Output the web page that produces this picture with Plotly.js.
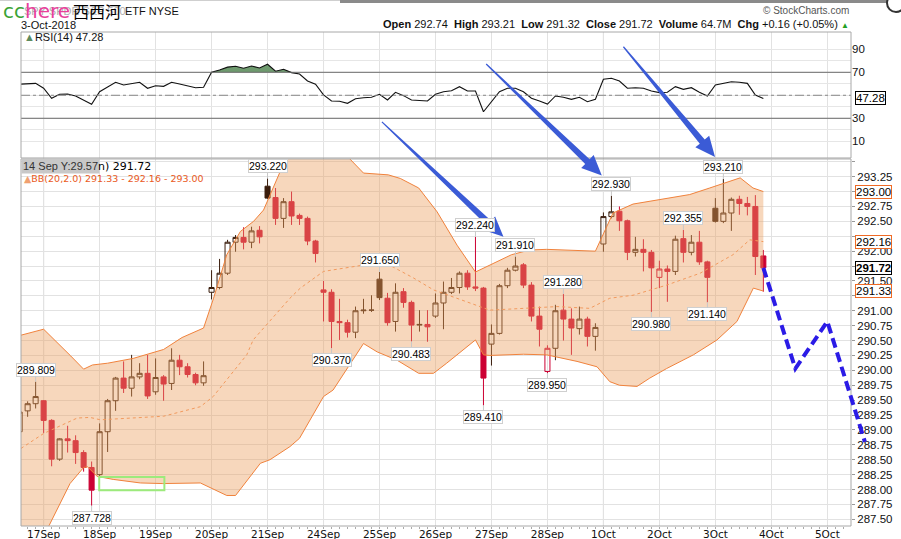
<!DOCTYPE html>
<html><head><meta charset="utf-8">
<script src="https://cdn.plot.ly/plotly-3.0.1.min.js"></script>
<style>html,body{margin:0;padding:0;background:#fff;}#chart{width:901px;height:539px;}</style>
</head><body><div id="chart"></div>
<script>
// ---------- DATA (hourly bars, index 0 = first bar of 17 Sep) ----------
const dayLabels = ['17Sep','18Sep','19Sep','20Sep','21Sep','24Sep','25Sep','26Sep','27Sep','28Sep','1Oct','2Oct','3Oct','4Oct','5Oct'];
const dayStartBars = [0,7,14,21,28,35,42,49,56,63,70,77,84,91,98];
const weekStartBars = [0,35,70];
const priceTicks = [287.5,287.75,288,288.25,288.5,288.75,289,289.25,289.5,289.75,290,290.25,290.5,290.75,291,291.25,291.5,291.75,292,292.25,292.5,292.75,293,293.25,293.5];
const priceTickText = ['287.50','287.75','288.00','288.25','288.50','288.75','289.00','289.25','289.50','289.75','290.00','290.25','290.50','290.75','291.00','','291.50','','292.00','','292.50','292.75','','293.25',''];
const rsiTicks = [10,20,30,40,50,60,70,80,90];
const rsiTickText = ['10','','30','','','','70','','90'];
const barIdx = [-3,-2,-1,0,1,2,3,4,5,6,7,8,9,10,11,12,13,14,15,16,17,18,19,20,21,22,23,24,25,26,27,28,29,30,31,32,33,34,35,36,37,38,39,40,41,42,43,44,45,46,47,48,49,50,51,52,53,54,55,56,57,58,59,60,61,62,63,64,65,66,67,68,69,70,71,72,73,74,75,76,77,78,79,80,81,82,83,84,85,86,87,88,89,90];
const opens  = [288.97,289.32,289.44,289.49,289.16,288.51,288.85,288.82,288.62,288.37,288.25,288.97,289.49,289.87,289.70,289.89,289.95,289.64,289.89,289.78,290.17,290.06,289.93,289.79,291.31,291.39,291.63,292.15,292.23,292.15,292.35,293.09,292.90,292.55,292.83,292.60,292.55,292.17,291.35,291.31,290.82,290.80,290.64,291.00,291.01,291.53,291.21,290.82,291.32,291.14,290.76,290.77,290.91,291.13,291.31,291.39,291.63,291.40,291.38,290.44,290.62,291.42,291.68,291.77,291.43,290.91,289.98,290.37,291.01,290.86,290.70,290.86,290.57,292.12,292.58,292.67,292.51,291.98,292.03,291.98,291.56,291.70,291.66,292.21,291.98,292.15,291.82,292.72,292.50,292.64,292.87,292.80,292.75,291.92];
const highs  = [289.31,289.48,289.809,289.50,289.18,288.86,289.07,288.91,288.66,288.47,289.11,289.52,289.89,290.15,290.26,290.12,290.26,290.20,289.92,290.37,290.26,290.12,289.96,290.15,291.68,291.87,292.19,292.27,292.40,292.41,292.42,293.220,293.06,292.89,293.00,292.63,292.58,292.19,291.50,291.36,291.20,290.85,291.07,291.20,291.26,291.650,291.30,291.46,291.38,291.17,291.01,291.01,291.29,291.49,291.55,291.66,291.68,292.240,291.40,290.77,291.45,291.72,291.910,291.80,291.48,291.07,290.42,291.10,291.280,291.04,291.07,290.90,290.79,292.65,292.930,292.75,292.53,292.24,292.20,292.02,291.84,291.76,292.26,292.355,292.27,292.34,291.84,292.89,293.210,292.90,292.93,292.91,292.94,292.02];
const lows   = [288.95,289.22,289.36,288.95,288.39,288.48,288.62,288.43,288.30,287.728,288.21,288.63,289.32,289.62,289.56,289.85,289.52,289.59,289.49,289.67,289.92,289.88,289.75,289.74,291.19,291.36,291.60,291.99,292.03,292.05,292.13,292.88,292.44,292.39,292.44,292.44,292.10,291.81,290.82,290.370,290.51,290.55,290.54,290.95,290.98,291.18,290.75,290.65,291.05,290.483,290.65,290.48,290.88,290.69,291.28,291.29,291.35,291.33,289.410,290.08,290.60,291.38,291.66,291.38,290.82,290.40,289.950,290.17,290.50,290.26,290.60,290.40,290.33,291.99,292.55,292.34,291.85,291.91,291.66,290.980,291.38,291.15,291.60,291.81,291.93,291.77,291.140,292.48,292.47,292.34,292.61,292.60,291.60,291.32];
const closes = [289.30,289.44,289.56,289.16,288.51,288.85,288.82,288.62,288.37,287.99,288.97,289.49,289.87,289.70,289.89,289.95,289.57,289.88,289.77,290.17,290.06,289.93,289.79,289.91,291.39,291.63,292.15,292.23,292.15,292.34,292.24,292.89,292.55,292.83,292.59,292.55,292.17,291.96,291.31,290.82,290.80,290.64,291.00,291.01,291.01,291.22,290.80,291.31,291.14,290.76,290.77,290.73,291.13,291.31,291.39,291.63,291.40,291.38,289.87,290.62,291.42,291.68,291.75,291.43,290.91,290.69,290.37,291.00,290.86,290.71,290.86,290.57,290.72,292.58,292.66,292.51,291.98,292.03,291.98,291.72,291.70,291.66,292.20,291.98,292.15,291.82,291.56,292.50,292.64,292.87,292.80,292.75,291.91,291.72];
const rsiValues = [59.6,60.0,60.4,56.1,47.4,50.9,51.1,49.4,46.0,42.2,53.1,57.5,61.3,59.0,60.4,61.3,56.1,58.3,57.8,61.3,59.8,58.2,56.6,57.0,70.0,72.0,74.5,75.2,73.5,75.5,73.7,77.0,70.9,72.6,69.7,68.5,62.4,59.6,50.3,45.0,44.8,43.0,47.0,47.9,48.3,50.9,45.9,52.6,49.7,45.9,45.7,45.0,50.9,53.1,54.0,57.5,53.7,53.7,35.7,44.4,53.1,56.1,56.1,53.1,47.4,45.0,42.4,49.4,48.3,46.5,48.3,44.4,46.5,63.9,64.8,62.4,56.1,56.6,56.1,53.7,52.3,52.6,57.5,55.2,56.6,52.6,49.4,59.0,60.4,61.8,61.3,60.4,50.3,47.28];
// Bollinger Bands (20,2) at sample positions (bar index)
const bbUpperBars = [-2.83,0,3.4,5,6.1,8,11.2,15,17.3,20,21.25,22.9,24.6,26.25,27.5,29.2,30.3,32,34,36,38.2,40,43.1,44.6,46.9,49.2,51.7,54,55.8,58.5,60.8,62.9,69,70.4,71.2,73.7,77.9,80.8,83.3,87.1,88.7,90];
const bbUpper    = [290.59,290.69,290.24,290.02,290.09,290.12,290.20,290.35,290.55,290.71,291.21,291.94,292.33,292.50,292.69,293.22,293.56,293.85,294.00,293.90,293.56,293.31,293.28,293.22,293.06,292.66,292.10,291.65,291.77,291.94,292.02,292.03,292.00,292.41,292.64,292.79,292.89,292.95,293.06,293.23,293.06,293.00];
const bbLowerBars = [-2.83,-1,0.7,3.3,5,5.5,6.7,8.7,12.1,14.9,19.6,22.9,24,27.1,28.3,30.8,32,35,36.2,40,41.7,44.2,46.9,48.75,50.4,54,55,55.8,60,62.9,66.7,69.2,70.8,72,74.2,75.8,77.9,81.25,84.2,86.7,88.75,90];
const bbLower    = [286.90,287.10,287.40,288.10,288.37,288.38,288.22,288.17,288.11,288.10,288.11,287.90,287.90,288.44,288.50,288.72,288.86,289.56,289.67,290.45,290.31,290.17,289.95,289.95,290.12,290.51,290.26,290.25,290.27,290.26,290.15,290.06,289.81,289.75,289.73,289.87,290.03,290.26,290.51,290.82,291.38,291.33];
const bbMidBars = [-2.83,0,4.2,5.8,7.1,15,19.6,21.2,25.4,26.2,30.8,32.1,35,42.5,46.25,48.75,52.9,55.8,60,64.2,68.3,70.8,73.7,77.9,82.1,86.2,88.3,90];
const bbMid     = [288.69,288.94,289.20,289.21,289.17,289.23,289.39,289.56,290.26,290.51,291.21,291.38,291.66,291.82,291.55,291.35,291.15,291.01,291.04,291.07,291.04,291.21,291.26,291.43,291.63,291.94,292.19,292.16];
// labelled highs / lows
const labelBars  = [-1,6,28,36,42,46,54,55,59,63,65,71,76,80,83,85];
const labelSides = ['H','L','H','L','H','L','H','L','H','L','H','H','L','H','L','H'];
// hand-drawn forecast (dashed) and arrows, in bar index / price units
const forecastBars = [90,94,98,102.7];
const forecastPrices = [291.72,290.03,290.82,288.80];
const arrowTails = [[42.3,294.17],[55.34,295.14],[72.5,295.43]];
const arrowTips  = [[57.5,292.24],[69.8,293.27],[83.96,293.58]];
const boxBars = [6.95,15.1], boxPrices = [287.99,288.21];
// header values
const header = {open:'292.74', high:'293.21', low:'291.32', close:'291.72', volume:'64.7M', chg:'+0.16 (+0.05%)'};

// ---------- LAYOUT GEOMETRY ----------
const W=901, H=539, M={l:21,r:50,t:32,b:13};
const plotW=W-M.l-M.r, plotH=H-M.t-M.b;
const mainDom=[0,0.743], rsiDom=[0.745,1];
const xRange=[-2.83,100.96], yRange=[287.388,293.547], y2Range=[-4.52,105.04];
function toPaper(k,p){
  return [(k-xRange[0])/(xRange[1]-xRange[0]), mainDom[0]+(p-yRange[0])/(yRange[1]-yRange[0])*(mainDom[1]-mainDom[0])];
}
function pxToPaperY(py){return (H-M.b-py)/plotH;}

const DARK='#3a1d0c', RED='#cc0033';
const upI=[], dnI=[];
for(let i=0;i<barIdx.length;i++){
  const prev = i>0 ? closes[i-1] : opens[i];
  (closes[i]>=prev ? upI : dnI).push(i);
}
const pick=(a,idx)=>idx.map(i=>a[i]);
function candle(idx,col){
  return {type:'candlestick', x:pick(barIdx,idx), open:pick(opens,idx), high:pick(highs,idx), low:pick(lows,idx), close:pick(closes,idx),
    xaxis:'x', yaxis:'y', whiskerwidth:0, hoverinfo:'skip', showlegend:false,
    increasing:{line:{color:col,width:1}, fillcolor:'rgba(0,0,0,0)'},
    decreasing:{line:{color:col,width:1}, fillcolor:col}};
}
const BANDLINE='#f0823c';
const traces=[
  {type:'scatter',mode:'lines',x:bbUpperBars,y:bbUpper,line:{color:BANDLINE,width:1},hoverinfo:'skip',showlegend:false,xaxis:'x',yaxis:'y'},
  {type:'scatter',mode:'lines',x:bbLowerBars,y:bbLower,line:{color:BANDLINE,width:1},fill:'tonexty',fillcolor:'rgba(236,160,96,0.42)',hoverinfo:'skip',showlegend:false,xaxis:'x',yaxis:'y'},
  {type:'scatter',mode:'lines',x:bbMidBars,y:bbMid,line:{color:'#f29a5e',width:1,dash:'dot'},hoverinfo:'skip',showlegend:false,xaxis:'x',yaxis:'y'},
  candle(upI,DARK),
  candle(dnI,RED),
  {type:'scatter',mode:'lines',x:barIdx,y:barIdx.map(()=>70),line:{width:0,color:'rgba(0,0,0,0)'},hoverinfo:'skip',showlegend:false,xaxis:'x',yaxis:'y2'},
  {type:'scatter',mode:'lines',x:barIdx,y:rsiValues.map(v=>Math.max(v,70)),line:{width:0,color:'rgba(0,0,0,0)'},fill:'tonexty',fillcolor:'#6e9a6e',hoverinfo:'skip',showlegend:false,xaxis:'x',yaxis:'y2'},
  {type:'scatter',mode:'lines',x:barIdx,y:rsiValues,line:{width:1.1,color:'#111'},hoverinfo:'skip',showlegend:false,xaxis:'x',yaxis:'y2'}
];

// ---------- SHAPES ----------
const shapes=[];
weekStartBars.forEach(k=>shapes.push({type:'line',xref:'x',yref:'paper',x0:k,x1:k,y0:0,y1:1,line:{color:'#c4c4c4',width:1},layer:'below'}));
shapes.push({type:'line',xref:'paper',yref:'y2',x0:0,x1:1,y0:70,y1:70,line:{color:'#6a6a6a',width:1}});
shapes.push({type:'line',xref:'paper',yref:'y2',x0:0,x1:1,y0:30,y1:30,line:{color:'#6a6a6a',width:1}});
shapes.push({type:'line',xref:'paper',yref:'y2',x0:0,x1:1,y0:50,y1:50,line:{color:'#888',width:1,dash:'dashdot'}});
shapes.push({type:'rect',xref:'paper',yref:'paper',x0:0,x1:1,y0:mainDom[0],y1:mainDom[1],line:{color:'#a8a8a8',width:1}});
shapes.push({type:'rect',xref:'paper',yref:'paper',x0:0,x1:1,y0:rsiDom[0],y1:rsiDom[1],line:{color:'#a8a8a8',width:1}});
shapes.push({type:'rect',xref:'x',yref:'y',x0:boxBars[0],x1:boxBars[1],y0:boxPrices[0],y1:boxPrices[1],line:{color:'#9dea7c',width:2}});
{
  let d='';
  forecastBars.forEach((k,i)=>{const p=toPaper(k,forecastPrices[i]); d+=(i?' L ':'M ')+p[0]+','+p[1];});
  shapes.push({type:'path',xref:'paper',yref:'paper',path:d,line:{color:'#2b1be6',width:4,dash:'10px,5px'}});
}
function arrowPath(t,h){
  const a=toPaper(t[0],t[1]), b=toPaper(h[0],h[1]);
  const pxT=[M.l+a[0]*plotW, M.t+(1-a[1])*plotH];
  const pxH=[M.l+b[0]*plotW, M.t+(1-b[1])*plotH];
  const dx=pxH[0]-pxT[0], dy=pxH[1]-pxT[1], L=Math.hypot(dx,dy);
  const ux=dx/L, uy=dy/L, nx=-uy, ny=ux;
  const headL=20, headW=9, neckW=3.2, tailW=0.6;
  const nk=[pxH[0]-ux*headL, pxH[1]-uy*headL];
  const pts=[
    [pxT[0]+nx*tailW,pxT[1]+ny*tailW],[nk[0]+nx*neckW,nk[1]+ny*neckW],[nk[0]+nx*headW,nk[1]+ny*headW],
    pxH,[nk[0]-nx*headW,nk[1]-ny*headW],[nk[0]-nx*neckW,nk[1]-ny*neckW],[pxT[0]-nx*tailW,pxT[1]-ny*tailW]];
  return pts.map((p,i)=>(i?'L ':'M ')+((p[0]-M.l)/plotW)+','+pxToPaperY(p[1])).join(' ')+' Z';
}
arrowTails.forEach((t,i)=>shapes.push({type:'path',xref:'paper',yref:'paper',path:arrowPath(t,arrowTips[i]),fillcolor:'#3b5bd6',line:{width:0}}));
shapes.push({type:'rect',xref:'paper',yref:'paper',x0:(340-M.l)/plotW,x1:(901-M.l)/plotW,y0:pxToPaperY(3),y1:pxToPaperY(0),fillcolor:'#8a8a8a',line:{width:0}});
shapes.push({type:'line',xref:'paper',yref:'paper',x0:-M.l/plotW,x1:(340-M.l)/plotW,y0:pxToPaperY(0.5),y1:pxToPaperY(0.5),line:{color:'#cfcfcf',width:1}});
shapes.push({type:'circle',xref:'paper',yref:'paper',x0:(887-M.l)/plotW,x1:(905-M.l)/plotW,y0:pxToPaperY(12),y1:pxToPaperY(-6),fillcolor:'#fff',line:{color:'#333',width:2}});

// ---------- ANNOTATIONS ----------
const ann=[];
const LF='Liberation Sans, Arial, sans-serif', VF='DejaVu Sans, Verdana, sans-serif';
labelBars.forEach((k,i)=>{
  const j=barIdx.indexOf(k), hi=labelSides[i]==='H';
  const v=hi?highs[j]:lows[j];
  ann.push({xref:'x',yref:'y',x:k,y:v,text:v.toFixed(3),showarrow:true,arrowhead:0,arrowwidth:1,arrowcolor:'#c8c8c8',ax:0,ay:hi?-12:12,
    font:{family:LF,size:10.5,color:'#000'},bgcolor:'#fff',bordercolor:'#cfcfcf',borderwidth:1,borderpad:0});
});
const lastBox=(v,border,bold)=>({xref:'paper',yref:'y',x:1,y:v,xanchor:'left',xshift:4,text:bold?'<b>'+v.toFixed(2)+'</b>':v.toFixed(2),showarrow:false,
  font:{family:LF,size:11.5,color:'#000'},bgcolor:'#fff',bordercolor:border,borderwidth:1,borderpad:0});
ann.push(lastBox(bbUpper[bbUpper.length-1],'#ef6a25',false));
ann.push(lastBox(bbMid[bbMid.length-1],'#ef6a25',false));
ann.push(lastBox(bbLower[bbLower.length-1],'#ef6a25',false));
ann.push(lastBox(closes[closes.length-1],'#000',true));
ann.push({xref:'paper',yref:'y2',x:1,y:rsiValues[rsiValues.length-1],xanchor:'left',xshift:4,text:rsiValues[rsiValues.length-1].toFixed(2),showarrow:false,
  font:{family:LF,size:11.5,color:'#000'},bgcolor:'#fff',bordercolor:'#000',borderwidth:1,borderpad:0});
const pY=py=>pxToPaperY(py), pX=px=>(px-M.l)/plotW;
ann.push({xref:'paper',yref:'paper',x:pX(22),y:pY(11),xanchor:'left',yanchor:'middle',showarrow:false,text:'SPY SPDR S&amp;P 500',font:{family:LF,size:11,color:'#b0b0b0'}});
ann.push({xref:'paper',yref:'paper',x:pX(123),y:pY(11),xanchor:'left',yanchor:'middle',showarrow:false,text:'ETF NYSE',font:{family:LF,size:11,color:'#111'}});
ann.push({xref:'paper',yref:'paper',x:pX(1),y:pY(11),xanchor:'left',yanchor:'middle',showarrow:false,text:'<span style="color:#3aa335">cc</span><span style="color:#e8409a">here</span>',font:{family:'DejaVu Sans, sans-serif',size:20}});
ann.push({xref:'paper',yref:'paper',x:pX(71),y:pY(11),xanchor:'left',yanchor:'middle',showarrow:false,text:'西西河',font:{family:'Noto Sans CJK SC, sans-serif',size:16,color:'#000'}});
ann.push({xref:'paper',yref:'paper',x:pX(19),y:pY(24.5),xanchor:'left',yanchor:'middle',showarrow:false,text:'3-Oct-2018',font:{family:LF,size:11,color:'#111'}});
ann.push({xref:'paper',yref:'paper',x:1,y:pY(24),xanchor:'right',yanchor:'middle',showarrow:false,
  text:'<b>Open</b> '+header.open+'  <b>High</b> '+header.high+'  <b>Low</b> '+header.low+'  <b>Close</b> '+header.close+'  <b>Volume</b> '+header.volume+'  <b>Chg</b> '+header.chg+' <span style="color:#22a022;font-size:8px">▲</span>',
  font:{family:LF,size:11,color:'#111'}});
ann.push({xref:'paper',yref:'paper',x:1,y:pY(11),xanchor:'right',yanchor:'middle',showarrow:false,text:'© StockCharts.com',font:{family:LF,size:10,color:'#555'}});
ann.push({xref:'paper',yref:'paper',x:pX(22),y:pY(37),xanchor:'left',yanchor:'middle',showarrow:false,text:'<span style="color:#5d8a5d">▲</span>RSI(14) 47.28',font:{family:LF,size:11,color:'#111'}});
ann.push({xref:'paper',yref:'paper',x:pX(21),y:pY(166),xanchor:'left',yanchor:'middle',showarrow:false,text:'14 Sep Y:29.57',bgcolor:'#c8c8c8',borderpad:1,font:{family:LF,size:11,color:'#333'}});
ann.push({xref:'paper',yref:'paper',x:pX(96),y:pY(166),xanchor:'left',yanchor:'middle',showarrow:false,text:'n) 291.72',font:{family:VF,size:11,color:'#000'}});
ann.push({xref:'paper',yref:'paper',x:pX(22),y:pY(178),xanchor:'left',yanchor:'middle',showarrow:false,text:'<span style="color:#f0a070">▲</span>BB(20,2.0) 291.33 - 292.16 - 293.00',font:{family:VF,size:9.5,color:'#ea5a1c'}});

const layout={
  width:W,height:H,margin:M,paper_bgcolor:'#fff',plot_bgcolor:'#fff',showlegend:false,dragmode:false,
  boxgap:0.1,
  xaxis:{domain:[0,1],range:xRange,anchor:'y',tickmode:'array',tickvals:dayStartBars,ticktext:dayLabels,showgrid:true,gridcolor:'#e2e2e2',gridwidth:1,
    zeroline:false,showline:false,ticks:'',tickfont:{family:VF,size:10.5,color:'#111'},rangeslider:{visible:false},fixedrange:true,
    minor:{tickmode:'linear',tick0:0,dtick:1,ticks:'outside',ticklen:2,tickcolor:'#aaa',showgrid:false}},
  yaxis:{domain:mainDom,range:yRange,side:'right',anchor:'x',tickmode:'array',tickvals:priceTicks,ticktext:priceTickText,showgrid:true,gridcolor:'#e2e2e2',
    zeroline:false,ticks:'outside',ticklen:3,tickcolor:'#999',tickfont:{family:LF,size:11.5,color:'#111'},fixedrange:true},
  yaxis2:{domain:rsiDom,range:y2Range,side:'right',anchor:'x',tickmode:'array',tickvals:rsiTicks,ticktext:rsiTickText,
    showgrid:true,gridcolor:'#e6e6e6',zeroline:false,ticks:'',tickfont:{family:LF,size:11.5,color:'#111'},fixedrange:true},
  shapes:shapes, annotations:ann
};
Plotly.newPlot('chart',traces,layout,{staticPlot:true,displayModeBar:false});
</script></body></html>
